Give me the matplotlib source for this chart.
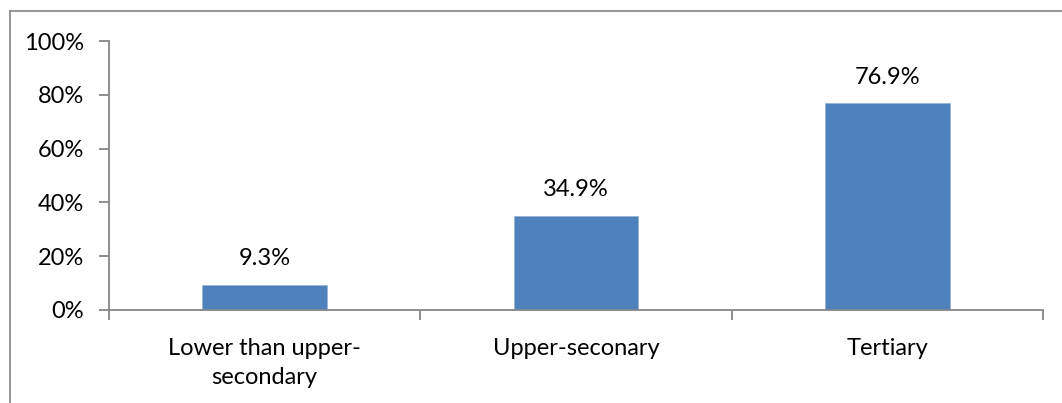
import matplotlib.pyplot as plt
from matplotlib.lines import Line2D
from matplotlib.ticker import FuncFormatter

categories = ["Lower than upper-\nsecondary", "Upper-seconary", "Tertiary"]
values = [9.3, 34.9, 76.9]
yticks = [0, 20, 40, 60, 80, 100]

plt.rcParams['font.family'] = ['Lato', 'DejaVu Sans']
fig = plt.figure(figsize=(10.62, 4.03), dpi=100)
ax = fig.add_axes([109 / 1062, 1 - 310 / 403, (1043 - 109) / 1062, (310 - 41) / 403])

x = range(len(categories))
ax.bar(x, values, width=0.4, color="#4F81BD", edgecolor="#9BB5D8", linewidth=0.6, zorder=2)
for xi, v in zip(x, values):
    ax.text(xi, v + 7.3, f"{v:.1f}%", ha="center", va="baseline", fontsize=17, color="black")

ax.set_xlim(-0.5, len(categories) - 0.5)
ax.set_ylim(0, 100)
ax.set_yticks(yticks)
ax.yaxis.set_major_formatter(FuncFormatter(lambda v, p: f"{v:.0f}%"))
ax.set_xticks(list(x))
ax.set_xticklabels(categories, fontsize=17, linespacing=1.45)
ax.set_xticks([-0.5, 0.5, 1.5, 2.5], minor=True)
ax.tick_params(axis="x", which="major", length=0, pad=20.5)
ax.tick_params(axis="x", which="minor", length=7, color="#868686", width=1.3)
ax.tick_params(axis="y", length=7, color="#868686", width=1.3, labelsize=17, pad=11)

for s in ["top", "right"]:
    ax.spines[s].set_visible(False)
for s in ["left", "bottom"]:
    ax.spines[s].set_color("#868686")
    ax.spines[s].set_linewidth(1.3)

# outer chart border (top and left visible)
fig.add_artist(Line2D([9.5 / 1062, 1], [1 - 10.5 / 403, 1 - 10.5 / 403], transform=fig.transFigure, color="#8C8C8C", lw=1.3))
fig.add_artist(Line2D([9.5 / 1062, 9.5 / 1062], [0, 1 - 10.5 / 403], transform=fig.transFigure, color="#8C8C8C", lw=1.3))

fig.savefig("out.png", dpi=100)
